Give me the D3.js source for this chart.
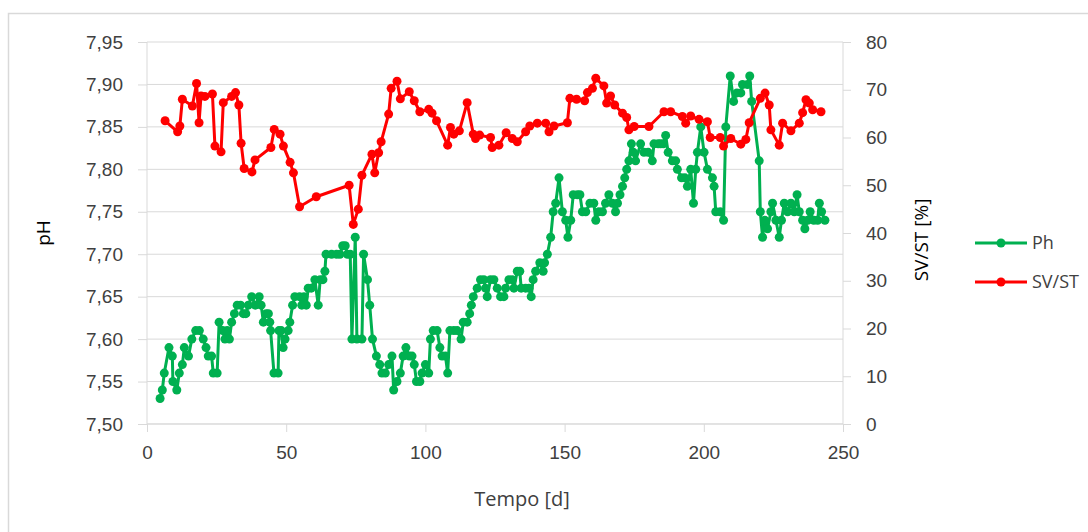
<!DOCTYPE html>
<html>
<head>
<meta charset="utf-8">
<script src="https://cdn.jsdelivr.net/npm/d3@7"></script>
<style>
  body { margin: 0; background: #fff; }
  svg { display: block; font-family: "Open Sans", sans-serif; }
  .tick text { fill: #404040; font-size: 19px; }
  .tick line { stroke: #d9d9d9; }
  .domain { stroke: #d9d9d9; }
</style>
</head>
<body>
<div id="chart"></div>
<script>
// pH readings [day, pH]
const phData = [
  [4.7,7.53],[5.5,7.54],[6.2,7.56],[7.9,7.59],[9.1,7.58],[9.3,7.55],[10.7,7.54],[11.6,7.56],
  [12.7,7.57],[13.4,7.59],[14.9,7.58],[16.1,7.60],[17.5,7.61],[18.8,7.61],[20.2,7.60],[21.2,7.59],
  [22.0,7.58],[23.2,7.58],[23.8,7.56],[25.2,7.56],[25.9,7.62],[27.2,7.61],[28.0,7.60],[28.8,7.61],
  [29.6,7.60],[30.4,7.62],[31.4,7.63],[32.4,7.64],[33.6,7.64],[34.6,7.63],[35.5,7.63],[36.4,7.64],
  [37.6,7.65],[38.9,7.64],[40.3,7.65],[41.0,7.64],[41.8,7.62],[42.8,7.63],[43.6,7.63],[44.1,7.62],
  [44.4,7.61],[45.6,7.56],[47.1,7.56],[47.4,7.61],[48.2,7.61],[48.9,7.59],[49.6,7.60],[50.7,7.61],
  [51.3,7.62],[52.3,7.64],[53.1,7.65],[54.8,7.65],[55.6,7.64],[56.4,7.65],[57.2,7.64],[57.9,7.66],
  [59.0,7.66],[60.3,7.67],[61.5,7.64],[62.2,7.67],[63.2,7.67],[63.9,7.68],[64.3,7.70],[66.3,7.70],
  [68.1,7.70],[69.3,7.70],[70.3,7.71],[71.2,7.71],[72.0,7.70],[73.0,7.70],[73.6,7.60],[74.8,7.72],
  [75.4,7.60],[77.2,7.60],[77.8,7.70],[79.2,7.67],[80.0,7.64],[81.0,7.60],[82.4,7.58],[83.6,7.57],
  [84.4,7.56],[85.6,7.56],[86.8,7.57],[88.0,7.58],[88.6,7.54],[89.8,7.55],[91.0,7.56],[92.0,7.58],
  [93.0,7.59],[94.2,7.58],[95.2,7.58],[96.0,7.57],[96.8,7.55],[98.0,7.55],[98.8,7.56],[100.0,7.57],
  [101.2,7.56],[101.8,7.60],[102.8,7.61],[104.2,7.61],[105.2,7.59],[106.0,7.58],[107.2,7.58],[108.0,7.56],
  [108.8,7.61],[110.2,7.61],[111.4,7.61],[112.8,7.60],[113.6,7.62],[115.0,7.62],[115.9,7.63],[116.5,7.64],
  [117.2,7.65],[118.6,7.66],[119.8,7.67],[121.0,7.67],[121.6,7.66],[122.2,7.65],[123.4,7.67],[124.6,7.67],
  [125.8,7.66],[127.0,7.65],[128.2,7.65],[128.8,7.66],[130.0,7.67],[131.2,7.67],[131.8,7.66],[133.0,7.68],
  [133.9,7.68],[134.4,7.66],[136.0,7.66],[137.2,7.66],[138.0,7.65],[138.7,7.67],[139.6,7.68],[141.1,7.69],
  [142.3,7.68],[142.8,7.69],[143.8,7.70],[145.0,7.72],[145.9,7.75],[146.8,7.76],[148.0,7.79],[149.2,7.75],
  [150.4,7.74],[151.2,7.72],[152.2,7.74],[153.1,7.77],[154.6,7.77],[155.5,7.77],[156.4,7.75],[157.6,7.75],
  [159.1,7.76],[160.5,7.76],[161.2,7.74],[162.3,7.75],[163.6,7.75],[164.7,7.76],[165.9,7.77],[167.2,7.76],
  [168.3,7.75],[169.0,7.76],[169.9,7.77],[170.8,7.78],[171.6,7.79],[172.3,7.80],[173.1,7.81],[174.0,7.83],
  [174.7,7.82],[175.5,7.81],[177.3,7.83],[178.5,7.82],[180.0,7.82],[181.5,7.81],[182.1,7.83],[183.6,7.83],
  [184.5,7.83],[185.5,7.83],[186.3,7.84],[187.2,7.82],[188.7,7.81],[189.9,7.81],[190.5,7.80],[192.0,7.79],
  [193.2,7.79],[194.1,7.78],[195.3,7.80],[196.3,7.76],[197.1,7.80],[197.7,7.82],[198.9,7.85],[200.1,7.82],
  [201.3,7.80],[203.1,7.79],[203.7,7.78],[204.3,7.75],[205.9,7.75],[207.1,7.74],[207.9,7.85],[209.5,7.91],
  [210.7,7.88],[211.9,7.89],[213.3,7.89],[213.9,7.90],[215.7,7.90],[216.5,7.91],[217.2,7.88],[219.9,7.81],
  [220.3,7.75],[221.1,7.72],[221.9,7.74],[222.9,7.73],[224.1,7.75],[224.7,7.76],[225.9,7.74],[227.1,7.72],
  [227.9,7.74],[228.9,7.76],[230.1,7.75],[231.3,7.76],[232.5,7.75],[233.5,7.77],[234.3,7.75],[235.5,7.74],
  [236.3,7.73],[237.3,7.74],[238.2,7.75],[239.5,7.74],[240.9,7.74],[241.5,7.76],[242.3,7.75],[243.5,7.74]
];

// SV/ST readings [day, %]
const svstData = [
  [6.5,63.5],[11.0,61.2],[11.8,62.4],[12.7,68.0],[16.3,66.6],[17.8,71.3],[18.7,63.1],[19.4,68.7],
  [20.8,68.6],[23.5,69.1],[24.4,58.2],[26.6,57.0],[27.4,67.3],[30.4,68.6],[31.8,69.4],[33.0,66.8],
  [33.8,58.8],[34.9,53.5],[37.7,52.8],[38.8,55.3],[44.5,57.9],[45.7,61.7],[47.8,60.7],[49.0,58.2],
  [51.4,54.8],[52.6,52.6],[54.8,45.5],[60.8,47.6],[72.6,50.0],[74.1,41.8],[75.9,45.0],[77.2,52.1],
  [80.8,56.5],[81.8,52.6],[83.2,56.8],[84.1,59.1],[86.8,64.9],[87.7,70.3],[89.8,71.8],[91.0,68.1],
  [94.2,69.6],[96.0,67.7],[98.0,65.4],[101.2,65.9],[102.4,65.1],[104.0,63.5],[108.0,58.4],[109.0,62.1],
  [110.2,60.7],[112.2,61.4],[115.0,67.3],[117.2,60.7],[118.0,59.8],[119.5,60.5],[123.4,60.0],[124.0,57.9],
  [126.4,58.4],[129.0,61.0],[131.2,59.8],[133.0,59.1],[136.0,61.2],[137.5,62.4],[140.2,63.0],[143.2,63.0],
  [144.4,61.2],[146.2,62.4],[151.0,63.1],[151.9,68.2],[154.3,68.0],[157.2,67.7],[158.2,69.4],[160.0,70.3],
  [161.2,72.4],[164.1,70.8],[165.1,67.2],[166.5,68.7],[168.0,66.8],[170.8,65.1],[172.3,64.2],[173.1,61.6],
  [175.0,62.3],[180.3,62.3],[185.7,65.4],[188.1,65.4],[192.3,64.4],[193.5,63.0],[195.3,64.5],[198.3,63.8],
  [201.3,63.3],[202.3,60.0],[205.9,60.0],[207.1,58.2],[209.7,59.8],[213.3,58.6],[215.1,59.6],[216.3,63.1],
  [220.3,68.2],[222.0,69.3],[223.5,66.8],[224.1,61.6],[227.1,58.4],[228.3,63.0],[231.3,61.4],[234.3,63.0],
  [235.5,65.2],[236.7,67.9],[237.9,67.2],[239.1,65.8],[242.1,65.4]
];

const xTicks = [0, 50, 100, 150, 200, 250];
const phTicks = [7.50, 7.55, 7.60, 7.65, 7.70, 7.75, 7.80, 7.85, 7.90, 7.95];
const svTicks = [0, 10, 20, 30, 40, 50, 60, 70, 80];

const W = 1088, H = 532;
const margin = { top: 42, right: 245, bottom: 108, left: 147 };
const width = W - margin.left - margin.right;
const height = H - margin.top - margin.bottom;

const GREEN = '#00b050', RED = '#ff0000';

const svg = d3.select('#chart').append('svg')
  .attr('width', W).attr('height', H);

// chart border
svg.append('rect')
  .attr('x', 8.5).attr('y', 13.5)
  .attr('width', 1200).attr('height', 600)
  .attr('fill', 'none').attr('stroke', '#d9d9d9').attr('stroke-width', 1.5);

const g = svg.append('g').attr('transform', `translate(${margin.left},${margin.top})`);

const x = d3.scaleLinear().domain([0, 250]).range([0, width]);
const yPh = d3.scaleLinear().domain([7.5, 7.95]).range([height, 0]);
const ySv = d3.scaleLinear().domain([0, 80]).range([height, 0]);

// gridlines
g.append('g').selectAll('line').data(phTicks).join('line')
  .attr('x1', 0).attr('x2', width)
  .attr('y1', d => yPh(d)).attr('y2', d => yPh(d))
  .attr('stroke', '#d9d9d9').attr('stroke-width', 1);

const fmt = d => d3.format('.2f')(d).replace('.', ',');

g.append('g').attr('class', 'y-axis')
  .call(d3.axisLeft(yPh).tickValues(phTicks).tickFormat(fmt).tickSize(9).tickPadding(15))
  .call(s => s.select('.domain').attr('d', `M0,${height}V0`));

g.append('g').attr('class', 'y2-axis')
  .attr('transform', `translate(${width},0)`)
  .call(d3.axisRight(ySv).tickValues(svTicks).tickSize(8).tickPadding(15))
  .call(s => s.select('.domain').attr('d', `M0,${height}V0`));

g.append('g').attr('class', 'x-axis')
  .attr('transform', `translate(0,${height})`)
  .call(d3.axisBottom(x).tickValues(xTicks).tickSize(8).tickPadding(14))
  .call(s => s.select('.domain').attr('d', `M0,0H${width}`));

// axis titles
svg.append('text')
  .attr('transform', `translate(50,233) rotate(-90)`)
  .attr('text-anchor', 'middle')
  .attr('font-size', 19).attr('fill', '#000')
  .text('pH');

svg.append('text')
  .attr('transform', `translate(928,240) rotate(-90)`)
  .attr('text-anchor', 'middle')
  .attr('font-size', 19).attr('fill', '#000')
  .text('SV/ST [%]');

svg.append('text')
  .attr('x', 522).attr('y', 506)
  .attr('text-anchor', 'middle')
  .attr('font-size', 20).attr('fill', '#404040')
  .text('Tempo [d]');

// series
const series = [
  { name: 'Ph', data: phData, y: yPh, color: GREEN },
  { name: 'SV/ST', data: svstData, y: ySv, color: RED }
];

series.forEach(s => {
  const line = d3.line().x(d => x(d[0])).y(d => s.y(d[1]));
  g.append('path')
    .datum(s.data)
    .attr('fill', 'none')
    .attr('stroke', s.color)
    .attr('stroke-width', 3)
    .attr('stroke-linejoin', 'round')
    .attr('d', line);
  g.append('g').selectAll('circle').data(s.data).join('circle')
    .attr('cx', d => x(d[0]))
    .attr('cy', d => s.y(d[1]))
    .attr('r', 4.5)
    .attr('fill', s.color);
});

// legend
const legend = svg.append('g').attr('transform', 'translate(975,243)');
series.forEach((s, i) => {
  const row = legend.append('g').attr('transform', `translate(0,${i * 39})`);
  row.append('line').attr('x1', 0).attr('x2', 52)
    .attr('stroke', s.color).attr('stroke-width', 3);
  row.append('circle').attr('cx', 26).attr('r', 4.5).attr('fill', s.color);
  row.append('text').attr('x', 57).attr('dy', '0.35em')
    .attr('font-size', 18).attr('fill', '#404040')
    .text(s.name);
});
</script>
</body>
</html>
